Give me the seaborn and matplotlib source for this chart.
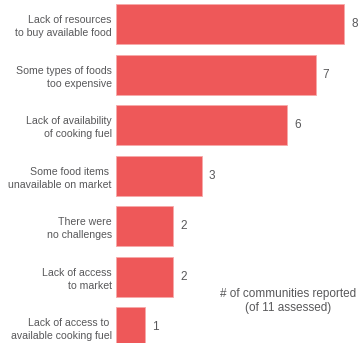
import pandas as pd
import seaborn as sns
import matplotlib.pyplot as plt

challenges = [
    'Lack of resources\nto buy available food',
    'Some types of foods\ntoo expensive',
    'Lack of availability\nof cooking fuel',
    'Some food items \nunavailable on market',
    'There were\nno challenges',
    'Lack of access\nto market',
    'Lack of access to \navailable cooking fuel',
]
communities = [8, 7, 6, 3, 2, 2, 1]
note = '# of communities reported\n(of 11 assessed)'

sns.set_theme(style='white')
plt.rcParams['font.family'] = ['Liberation Sans', 'DejaVu Sans']

data = pd.DataFrame({'challenge': challenges, 'count': communities})

fig = plt.figure(figsize=(3.6, 3.43), dpi=100)
ax = fig.add_axes([116 / 360, -9.5 / 343, 244 / 360, 353.5 / 343])

sns.barplot(x='count', y='challenge', data=data, ax=ax, orient='h',
            color='#ee5859', saturation=1, width=0.8,
            edgecolor='#f7a9a9', linewidth=0.6)

ax.set_xlim(0, 244 / 28.5)
ax.set_xlabel('')
ax.set_ylabel('')
ax.set_xticks([])
sns.despine(ax=ax, left=True, bottom=True)
ax.tick_params(axis='y', length=0, pad=3, labelsize=7.55, labelcolor='#58585a')
for lbl in ax.get_yticklabels():
    lbl.set_linespacing(1.4)

for bar, val in zip(ax.patches, communities):
    ax.text(bar.get_width() + 0.25, bar.get_y() + bar.get_height() / 2,
            str(val), va='center', ha='left', fontsize=8.5, color='#58585a')

fig.text(288 / 360, 1 - 301 / 343, note, ha='center', va='center',
         fontsize=8.5, color='#58585a', linespacing=1.3)

plt.savefig('out.png', dpi=100)
